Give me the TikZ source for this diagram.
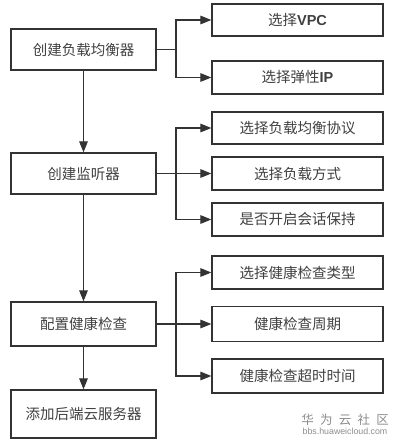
\documentclass[tikz,border=0pt]{standalone}
\usepackage{fontspec}
\setmainfont{Noto Sans CJK SC}
\newfontfamily\latinb{Liberation Sans}
\usetikzlibrary{arrows.meta}
\begin{document}
\begin{tikzpicture}[x=1pt,y=-1pt,
  box/.style={draw=black!80, line width=1.2pt, inner sep=0pt, font=\fontsize{14.5}{15}\selectfont, text=black!75},
  lbox/.style={box, minimum width=145pt},
  rbox/.style={box, minimum width=171pt},
  conn/.style={draw=black!80, line width=1.1pt},
  arr/.style={conn, -{Triangle[length=11pt,width=8.5pt]}}]
\useasboundingbox (0,0) rectangle (394,447);
% left column
\node[lbox, minimum height=41pt] (B1) at (83.5,49.5) {创建负载均衡器};
\node[lbox, minimum height=41pt] (B2) at (83.5,173.5) {创建监听器};
\node[lbox, minimum height=44pt] (B3) at (83.5,324) {配置健康检查};
\node[lbox, minimum height=48pt] (B4) at (83.5,414) {添加后端云服务器};
% right column
\node[rbox, minimum height=32pt] (R1) at (297.5,20) {选择{\latinb\bfseries VPC}};
\node[rbox, minimum height=33pt] (R2) at (297.5,77.5) {选择弹性{\latinb\bfseries IP}};
\node[rbox, minimum height=32pt] (R3) at (297.5,128) {选择负载均衡协议};
\node[rbox, minimum height=33pt] (R4) at (297.5,173.5) {选择负载方式};
\node[rbox, minimum height=33pt] (R5) at (297.5,219.5) {是否开启会话保持};
\node[rbox, minimum height=33pt] (R6) at (297.5,272.5) {选择健康检查类型};
\node[rbox, minimum height=35pt] (R7) at (297.5,324) {健康检查周期};
\node[rbox, minimum height=34pt] (R8) at (297.5,376) {健康检查超时时间};
% vertical flow
\draw[arr] (B1) -- (B2);
\draw[arr] (B2) -- (B3);
\draw[arr] (B3) -- (B4);
% branches
\coordinate (j1) at (176,49.5);
\coordinate (j2) at (176,173.5);
\coordinate (j3) at (176,324);
\draw[conn] (B1.east) -- (j1);
\draw[arr] (j1) |- (R1.west);
\draw[arr] (j1) |- (R2.west);
\draw[arr] (B2.east) -- (R4.west);
\draw[arr] (j2) |- (R3.west);
\draw[arr] (j2) |- (R5.west);
\draw[arr] (B3.east) -- (R7.west);
\draw[arr] (j3) |- (R6.west);
\draw[arr] (j3) |- (R8.west);
% watermark
\node[text=black!45, font=\fontsize{12.5}{13}\selectfont, inner sep=0pt] (wm1) at (345,420) {华\,\,\,为\,\,\,云\,\,\,社\,\,\,区};
\node[text=black!45, font=\latinb\fontsize{8.8}{9}\selectfont, inner sep=0pt] (wm2) at (345,431.5) {bbs.huaweicloud.com};
\end{tikzpicture}
\end{document}
